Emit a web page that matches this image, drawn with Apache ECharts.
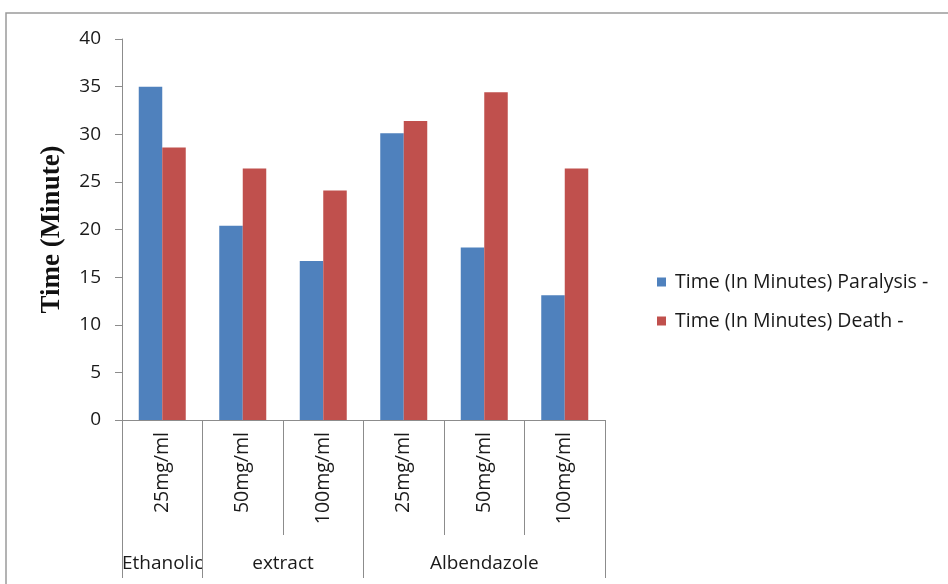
<!DOCTYPE html>
<html>
<head>
<meta charset="utf-8">
<script src="https://cdn.jsdelivr.net/npm/echarts@6/dist/echarts.min.js"></script>
<style>html,body{margin:0;padding:0;background:#fff}#c{width:948px;height:584px}</style>
</head>
<body>
<div id="c"></div>
<script>
var categories = ['25mg/ml', '50mg/ml', '100mg/ml', '25mg/ml', '50mg/ml', '100mg/ml'];
var paralysis = [35.0, 20.4, 16.7, 30.1, 18.1, 13.1];
var death = [28.6, 26.4, 24.1, 31.4, 34.4, 26.4];
var seriesNames = ['Time (In Minutes) Paralysis -', 'Time (In Minutes) Death -'];
var yTicks = [0, 5, 10, 15, 20, 25, 30, 35, 40];
// group labels: [text, anchor boundary index (category edge), alignment]
var groupLabels = [['Ethanolic', 0, 'left'], ['extract', 2, 'center'], ['Albendazole', 4.5, 'center']];
var longLineIdx = [0, 1, 3, 6];

var FONT = 'Open Sans';
var TXT = '#1a1a1a';
var chart = echarts.init(document.getElementById('c'));
var option = {
  animation: false,
  backgroundColor: '#fff',
  grid: {left: 122, right: 343, top: 39, bottom: 164, containLabel: false},
  legend: {
    orient: 'vertical', left: 652, top: 267, itemWidth: 9, itemHeight: 9, itemGap: 19,
    icon: 'rect',
    textStyle: {fontFamily: FONT, fontSize: 19.5, color: TXT, padding: [0, 0, 0, 4]},
    data: seriesNames
  },
  xAxis: [{
    type: 'category', data: categories,
    axisLine: {lineStyle: {color: '#8c8c8c', width: 1}},
    axisTick: {show: true, interval: 0, length: 115, lineStyle: {color: '#8c8c8c'}},
    axisLabel: {rotate: 90, interval: 0, margin: 12, fontFamily: FONT, fontSize: 19.5, color: TXT}
  }, {
    type: 'category', data: categories, position: 'bottom',
    axisLine: {show: false},
    axisTick: {show: true, length: 158, lineStyle: {color: '#8c8c8c'},
      interval: function (i) { return longLineIdx.indexOf(i) >= 0; }},
    axisLabel: {show: false}
  }],
  yAxis: {
    type: 'value', min: yTicks[0], max: yTicks[yTicks.length - 1], interval: 5,
    name: 'Time (Minute)', nameLocation: 'middle', nameGap: 56,
    nameTextStyle: {fontFamily: 'Liberation Serif', fontWeight: 'bold', fontSize: 27, color: '#111'},
    axisLine: {show: true, lineStyle: {color: '#8c8c8c'}},
    axisTick: {show: true, length: 7, lineStyle: {color: '#8c8c8c'}},
    splitLine: {show: false},
    axisLabel: {margin: 21, fontFamily: FONT, fontSize: 19, color: TXT}
  },
  series: [{
    name: seriesNames[0], type: 'bar', data: paralysis, barWidth: 23.5, barGap: '0%',
    itemStyle: {color: '#4F81BD'}
  }, {
    name: seriesNames[1], type: 'bar', data: death, barWidth: 23.5, barGap: '0%',
    itemStyle: {color: '#C0504D'}
  }]
};
chart.setOption(option);

// frame + group labels placed through the axis scale
var y0 = chart.convertToPixel({yAxisIndex: 0}, 0);
var bw = chart.convertToPixel({xAxisIndex: 0}, 1) - chart.convertToPixel({xAxisIndex: 0}, 0);
var x0 = chart.convertToPixel({xAxisIndex: 0}, 0) - bw / 2;
var g = [{
  type: 'rect', shape: {x: 6, y: 13, width: 960, height: 600}, silent: true, z: -10,
  style: {fill: 'none', stroke: '#9a9a9a', lineWidth: 1.5}
}];
groupLabels.forEach(function (gl) {
  g.push({
    type: 'text', x: x0 + gl[1] * bw, y: y0 + 144,
    style: {text: gl[0], fontFamily: FONT, fontSize: 19, fill: TXT, align: gl[2], verticalAlign: 'middle'}
  });
});
chart.setOption({graphic: g});
</script>
</body>
</html>
